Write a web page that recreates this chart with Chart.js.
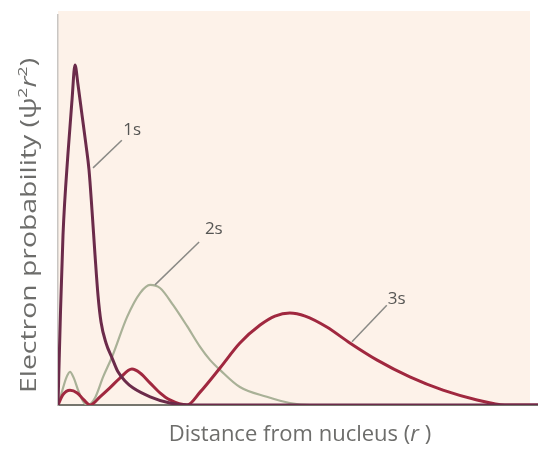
<!DOCTYPE html>
<html>
<head>
<meta charset="utf-8">
<script src="https://cdn.jsdelivr.net/npm/chart.js@4"></script>
<style>
  html, body { margin: 0; padding: 0; background: #ffffff; }
  #wrap { width: 538px; height: 451px; }
</style>
</head>
<body>
<div id="wrap"><canvas id="chart" width="538" height="451"></canvas></div>
<script>
// Distance from nucleus (arbitrary units, 0-100) and probability (0-100)
const dist1s = [0, 0.5, 1.04, 2.08, 2.92, 3.54, 4.17, 5.0, 5.83, 6.46, 7.08, 7.71, 8.33, 8.96, 10.0, 11.25, 12.5, 14.17, 15.6, 19.2, 23.3, 27.5, 100];
const prob1s = [0, 23.0, 43.5, 64.5, 78.2, 87.2, 82.1, 74.4, 66.7, 60.3, 50.0, 38.5, 28.2, 21.3, 15.9, 12.1, 8.5, 5.9, 4.4, 2.1, 0.5, 0, 0];

const dist2s = [0, 0.8, 1.7, 2.5, 3.3, 4.2, 5.2, 6.25, 7.7, 9.4, 11.25, 14.4, 17.1, 19.2, 21.25, 24.0, 26.9, 29.6, 31.7, 33.75, 37.9, 43.5, 48.3, 52.5, 100];
const prob2s = [0, 3.3, 6.9, 8.5, 6.9, 3.8, 1.0, 0, 1.8, 7.2, 12.3, 22.6, 28.7, 30.8, 30.0, 25.6, 20.2, 14.9, 11.5, 9.0, 4.6, 2.1, 0.5, 0, 0];

const dist3s = [0, 1.0, 2.5, 4.0, 5.4, 6.7, 8.75, 10.8, 12.9, 15.4, 17.1, 19.2, 21.25, 23.3, 26.9, 29.6, 33.75, 37.9, 42.1, 45.2, 48.3, 51.5, 56.0, 60.8, 66.5, 73.3, 80.2, 87.3, 93.1, 100];
const prob3s = [0, 2.6, 3.8, 3.1, 1.3, 0, 2.1, 4.4, 6.9, 9.2, 8.2, 5.6, 3.1, 1.3, 0, 3.3, 9.5, 15.9, 20.5, 22.8, 23.6, 22.8, 20.0, 15.9, 11.5, 7.2, 3.8, 1.3, 0, 0];

// curve labels: name, point on curve, end of leader, text anchor
const curveNames = ["1s", "2s", "3s"];
const leaderFrom = [[7.3, 60.8], [20.2, 30.8], [61.25, 16.2]];
const leaderTo = [[13.3, 67.9], [29.4, 41.8], [68.5, 25.6]];
const labelAt = [[13.6, 70.5], [30.6, 45.0], [68.7, 27.2]];

const xTitle = [["Distance from nucleus (", ""], ["r", "italic"], [" )", ""]];
const yTitle = [["Electron probability (", ""], ["\u03c8", ""], ["2", "sup"], ["r", "italic"], ["2", "sup"], [")", ""]];

function toPoints(xs, ys) {
    return xs.map((x, i) => ({x: x, y: ys[i]}));
}

function runFont(style, size) {
    if (style === 'italic') return 'italic ' + size + 'px "Open Sans"';
    if (style === 'sup') return Math.round(size * 0.62) + 'px "Open Sans"';
    return size + 'px "Open Sans"';
}

function runsWidth(ctx, runs, size) {
    let w = 0;
    for (const r of runs) {
        ctx.font = runFont(r[1], size);
        w += ctx.measureText(r[0]).width;
    }
    return w;
}

function drawRuns(ctx, runs, size) {
    let x = 0;
    for (const r of runs) {
        ctx.font = runFont(r[1], size);
        const dy = r[1] === 'sup' ? -size * 0.42 : 0;
        ctx.fillText(r[0], x, dy);
        x += ctx.measureText(r[0]).width;
    }
}

const creamBg = {
    id: 'creamBg',
    beforeDraw(chart) {
        const {ctx, chartArea} = chart;
        ctx.save();
        ctx.fillStyle = '#fdf2e9';
        ctx.fillRect(chartArea.left, chartArea.top - 4, chartArea.right - chartArea.left - 8, chartArea.bottom - chartArea.top + 4);
        ctx.restore();
    }
};

const axisTitles = {
    id: 'axisTitles',
    afterDraw(chart) {
        const ctx = chart.ctx;
        const area = chart.chartArea;
        ctx.save();
        ctx.fillStyle = '#6d6d6b';
        ctx.textAlign = 'left';
        ctx.textBaseline = 'alphabetic';

        // x title, centred under the plot
        const xw = runsWidth(ctx, xTitle, 22);
        ctx.save();
        ctx.translate((area.left + area.right) / 2 - xw / 2 + 2, area.bottom + 36);
        drawRuns(ctx, xTitle, 22);
        ctx.restore();

        // y title, rotated and stretched along its length like the scan
        const yw = runsWidth(ctx, yTitle, 21);
        const len = area.bottom - area.top - 55;
        ctx.save();
        ctx.translate(36, area.bottom - 12);
        ctx.rotate(-Math.PI / 2);
        ctx.scale(len / yw, 1);
        drawRuns(ctx, yTitle, 21);
        ctx.restore();

        ctx.restore();
    }
};

const curveLabels = {
    id: 'curveLabels',
    afterDatasetsDraw(chart) {
        const ctx = chart.ctx;
        const xs = chart.scales.x;
        const ys = chart.scales.y;
        ctx.save();
        for (let i = 0; i < curveNames.length; i++) {
            ctx.strokeStyle = '#8a8a86';
            ctx.lineWidth = 1.5;
            ctx.beginPath();
            ctx.moveTo(xs.getPixelForValue(leaderFrom[i][0]), ys.getPixelForValue(leaderFrom[i][1]));
            ctx.lineTo(xs.getPixelForValue(leaderTo[i][0]), ys.getPixelForValue(leaderTo[i][1]));
            ctx.stroke();
            ctx.fillStyle = '#555553';
            ctx.font = '17px "Open Sans"';
            ctx.textAlign = 'left';
            ctx.textBaseline = 'middle';
            ctx.fillText(curveNames[i], xs.getPixelForValue(labelAt[i][0]), ys.getPixelForValue(labelAt[i][1]));
        }
        ctx.restore();
    }
};

const ctx = document.getElementById("chart");

const config = {
    type: 'line',
    data: {
        datasets: [
            {
                label: '1s',
                data: toPoints(dist1s, prob1s),
                borderColor: '#6b2b4a',
                borderWidth: 3,
                order: 0
            },
            {
                label: '2s',
                data: toPoints(dist2s, prob2s),
                borderColor: '#a9b197',
                borderWidth: 2.2,
                order: 2
            },
            {
                label: '3s',
                data: toPoints(dist3s, prob3s),
                borderColor: '#a0283f',
                borderWidth: 3,
                order: 1
            }
        ]
    },
    options: {
        responsive: false,
        animation: false,
        layout: { padding: { top: 15, right: 0, left: 0, bottom: 0 } },
        elements: {
            point: { radius: 0 },
            line: { cubicInterpolationMode: 'monotone', fill: false }
        },
        plugins: {
            legend: { display: false },
            tooltip: { enabled: false }
        },
        scales: {
            x: {
                type: 'linear',
                min: 0,
                max: 100,
                ticks: { display: false },
                grid: { display: false },
                border: { display: true, color: '#75756d', width: 2 },
                afterFit(scale) { scale.height = 46; }
            },
            y: {
                min: 0,
                max: 100,
                ticks: { display: false },
                grid: { display: false },
                border: { display: true, color: '#c9c6c3', width: 1.5 },
                afterFit(scale) { scale.width = 58; }
            }
        }
    },
    plugins: [creamBg, curveLabels, axisTitles]
};

const probChart = new Chart(ctx, config);
</script>
</body>
</html>
